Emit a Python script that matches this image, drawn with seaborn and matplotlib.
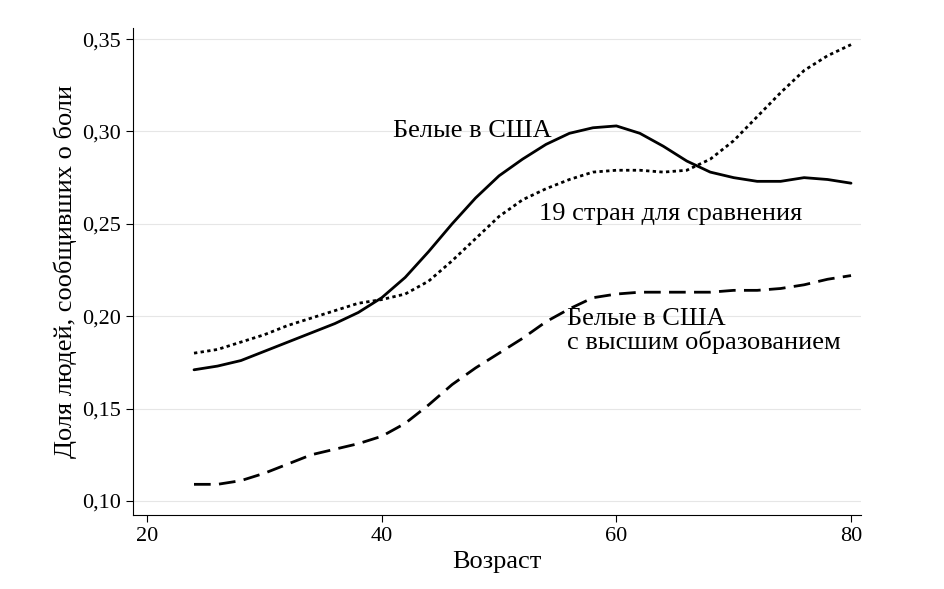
import matplotlib
matplotlib.use("Agg")
import matplotlib.pyplot as plt
import seaborn as sns
import pandas as pd

age = [24,26,28,30,32,34,36,38,40,42,44,46,48,50,52,54,56,58,60,62,64,66,68,70,72,74,76,78,80]
white_us = [0.171,0.173,0.176,0.181,0.186,0.191,0.196,0.202,0.210,0.221,0.235,0.250,0.264,0.276,0.285,0.293,0.299,0.302,0.303,0.299,0.292,0.284,0.278,0.275,0.273,0.273,0.275,0.274,0.272]
countries19 = [0.180,0.182,0.186,0.190,0.195,0.199,0.203,0.207,0.209,0.212,0.219,0.230,0.242,0.254,0.263,0.269,0.274,0.278,0.279,0.279,0.278,0.279,0.285,0.295,0.308,0.321,0.333,0.341,0.347]
white_us_college = [0.109,0.109,0.111,0.115,0.120,0.125,0.128,0.131,0.135,0.142,0.152,0.163,0.172,0.180,0.188,0.197,0.204,0.210,0.212,0.213,0.213,0.213,0.213,0.214,0.214,0.215,0.217,0.220,0.222]
yticks = [0.10,0.15,0.20,0.25,0.30,0.35]
xticks = [20,40,60,80]

sns.set_style("ticks")
plt.rcParams["font.family"] = "Liberation Serif"
plt.rcParams["text.color"] = "black"
plt.rcParams["axes.labelcolor"] = "black"
plt.rcParams["xtick.color"] = "black"
plt.rcParams["ytick.color"] = "black"
fig = plt.figure(figsize=(9.44,5.89), dpi=100)
ax = fig.add_axes([133/944, 1-515/589, (861-133)/944, (515-28)/589])
df = pd.DataFrame({"age":age,"a":white_us,"b":countries19,"c":white_us_college})
sns.lineplot(data=df, x="age", y="a", ax=ax, color="black", lw=2)
sns.lineplot(data=df, x="age", y="b", ax=ax, color="black", lw=2, linestyle=(0,(1.2,1.2)))
sns.lineplot(data=df, x="age", y="c", ax=ax, color="black", lw=2, linestyle=(0,(6,3)))
ax.set_xlim(18.8, 80.85)
ax.set_ylim(0.0924, 0.356)
ax.set_xticks(xticks)
ax.set_yticks(yticks)
ax.set_yticklabels([f"{v:.2f}".replace(".", ",") for v in yticks])
for v in yticks:
    ax.axhline(v, color="#e6e6e6", lw=0.8, zorder=0)
for s in ["top","right"]:
    ax.spines[s].set_visible(False)
for s in ["left","bottom"]:
    ax.spines[s].set_color("black"); ax.spines[s].set_linewidth(0.8)
ax.tick_params(axis="both", direction="out", length=5, width=0.8, labelsize=16)
ax.set_xlabel("Возраст", fontsize=19)
ax.set_ylabel("Доля людей, сообщивших о боли", fontsize=19)
ax.text(41, 0.300, "Белые в США", fontsize=19, va="center")
ax.text(53.4, 0.2555, "19 стран для сравнения", fontsize=19, va="center")
ax.text(55.8, 0.2045, "Белые в США\nс высшим образованием", fontsize=19, va="top", linespacing=1.05)
fig.savefig("out.png", dpi=100)
